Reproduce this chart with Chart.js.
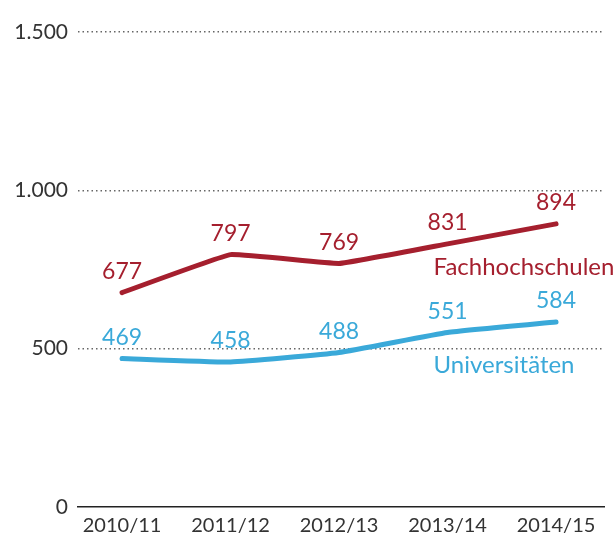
<!DOCTYPE html>
<html>
<head>
<meta charset="utf-8">
<script src="https://cdn.jsdelivr.net/npm/chart.js@4"></script>
<style>
  html, body { margin: 0; padding: 0; background: #fff; }
  #wrap { width: 614px; height: 539px; }
</style>
</head>
<body>
<div id="wrap"><canvas id="canvas"></canvas></div>
<script>
let ctx = document.getElementById("canvas").getContext("2d")

// data
labels = ["2010/11", "2011/12", "2012/13", "2013/14", "2014/15"]
fachhochschulen = [677, 797, 769, 831, 894]
universitaeten = [469, 458, 488, 551, 584]
yTicks = [0, 500, 1000, 1500]
seriesNames = ["Fachhochschulen", "Universitäten"]

const red = "#a51f2e"
const blue = "#3aa9d9"
const font = "Lato"

const fmt = v => v.toLocaleString("de-DE")

const toPoints = arr => arr.map((v, i) => ({ x: i, y: v }))

// value labels above each point + series names
const labelPlugin = {
    id: "labels",
    afterDatasetsDraw(chart) {
        let c = chart.ctx
        let xs = chart.scales.x
        let ys = chart.scales.y
        c.save()
        c.textBaseline = "middle"
        chart.data.datasets.forEach(ds => {
            c.fillStyle = ds.borderColor
            c.textAlign = "center"
            c.font = "23px " + font
            ds.data.forEach(p => {
                c.fillText(fmt(p.y), xs.getPixelForValue(p.x), ys.getPixelForValue(p.y) - 21)
            })
            let last = ds.data[ds.data.length - 1]
            c.textAlign = "left"
            c.font = "24px " + font
            c.fillText(ds.label, xs.getPixelForValue(3) - 14, ys.getPixelForValue(last.y) + 43)
        })
        c.restore()
    }
}

const config = {
    type: "line",
    data: {
        datasets: [
            {
                label: seriesNames[0],
                borderColor: red,
                data: toPoints(fachhochschulen),
                borderWidth: 5,
                pointRadius: 0,
                tension: 0.08,
                borderCapStyle: "round",
                borderJoinStyle: "round",
            },
            {
                label: seriesNames[1],
                borderColor: blue,
                data: toPoints(universitaeten),
                borderWidth: 5,
                pointRadius: 0,
                tension: 0.12,
                borderCapStyle: "round",
                borderJoinStyle: "round",
            }
        ]
    },
    options: {
        responsive: true,
        maintainAspectRatio: false,
        animation: false,
        layout: { padding: { top: 32, right: 10, left: 0, bottom: 0 } },
        plugins: {
            legend: { display: false },
            tooltip: { enabled: false },
        },
        scales: {
            x: {
                type: "linear",
                min: -0.406,
                max: 4.442,
                afterBuildTicks: s => { s.ticks = labels.map((l, i) => ({ value: i })) },
                afterFit: s => { s.height = 32 },
                ticks: {
                    callback: v => labels[v],
                    color: "#333",
                    font: { family: font, size: 20 },
                    padding: 7,
                    maxRotation: 0,
                    autoSkip: false,
                },
                grid: { display: false, drawTicks: false },
                border: { display: true, color: "#222", width: 1.5 },
            },
            y: {
                min: 0,
                max: 1500,
                afterBuildTicks: s => { s.ticks = yTicks.map(v => ({ value: v })) },
                afterFit: s => { s.width = 78 },
                ticks: {
                    callback: v => fmt(v),
                    color: "#333",
                    font: { family: font, size: 21 },
                    padding: 10,
                },
                grid: {
                    drawTicks: false,
                    color: c => c.tick && c.tick.value === 0 ? "rgba(0,0,0,0)" : "#666",
                    lineWidth: 1.5,
                },
                border: { display: false, dash: [1.5, 3] },
            }
        },
    },
    plugins: [labelPlugin]
}

let chart = new Chart(ctx, config)
</script>
</body>
</html>
